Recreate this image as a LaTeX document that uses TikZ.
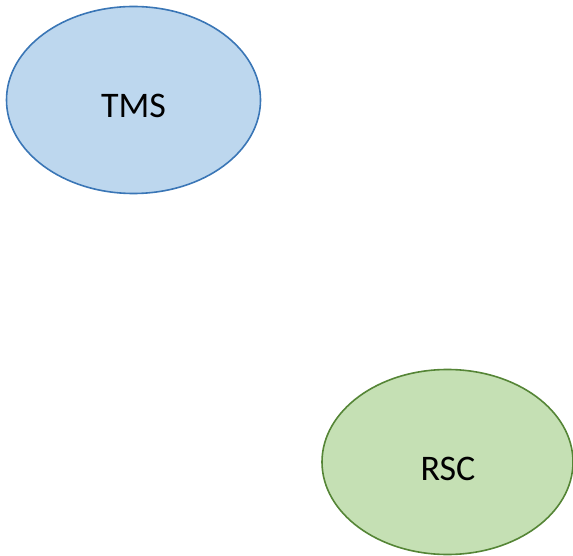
\documentclass[tikz,border=0pt]{standalone}
\usepackage{fontspec}
\setmainfont{Carlito}
\usetikzlibrary{shapes.geometric}
\definecolor{bluefill}{HTML}{BDD7EE}
\definecolor{blueline}{HTML}{3A76B6}
\definecolor{greenfill}{HTML}{C5E0B4}
\definecolor{greenline}{HTML}{558536}
\tikzset{
  oval/.style={ellipse, line width=1.6pt, inner sep=0pt},
  tms/.style={oval, draw=blueline, fill=bluefill, minimum width=254pt, minimum height=187pt},
  rsc/.style={oval, draw=greenline, fill=greenfill, minimum width=251pt, minimum height=185pt},
  lbl/.style={inner sep=0pt, font=\fontsize{36}{42}\selectfont},
}
\begin{document}
\begin{tikzpicture}[x=1pt,y=-1pt]
\useasboundingbox (0,0) rectangle (573,556);
\clip (0,0) rectangle (573,556);
\node[tms] (tms) at (133.5,100) {};
\node[lbl] (tmst) at (133.5,106) {TMS};
\node[rsc] (rsc) at (447.5,462) {};
\node[lbl] (rsct) at (448,469) {RSC};
\end{tikzpicture}
\end{document}
